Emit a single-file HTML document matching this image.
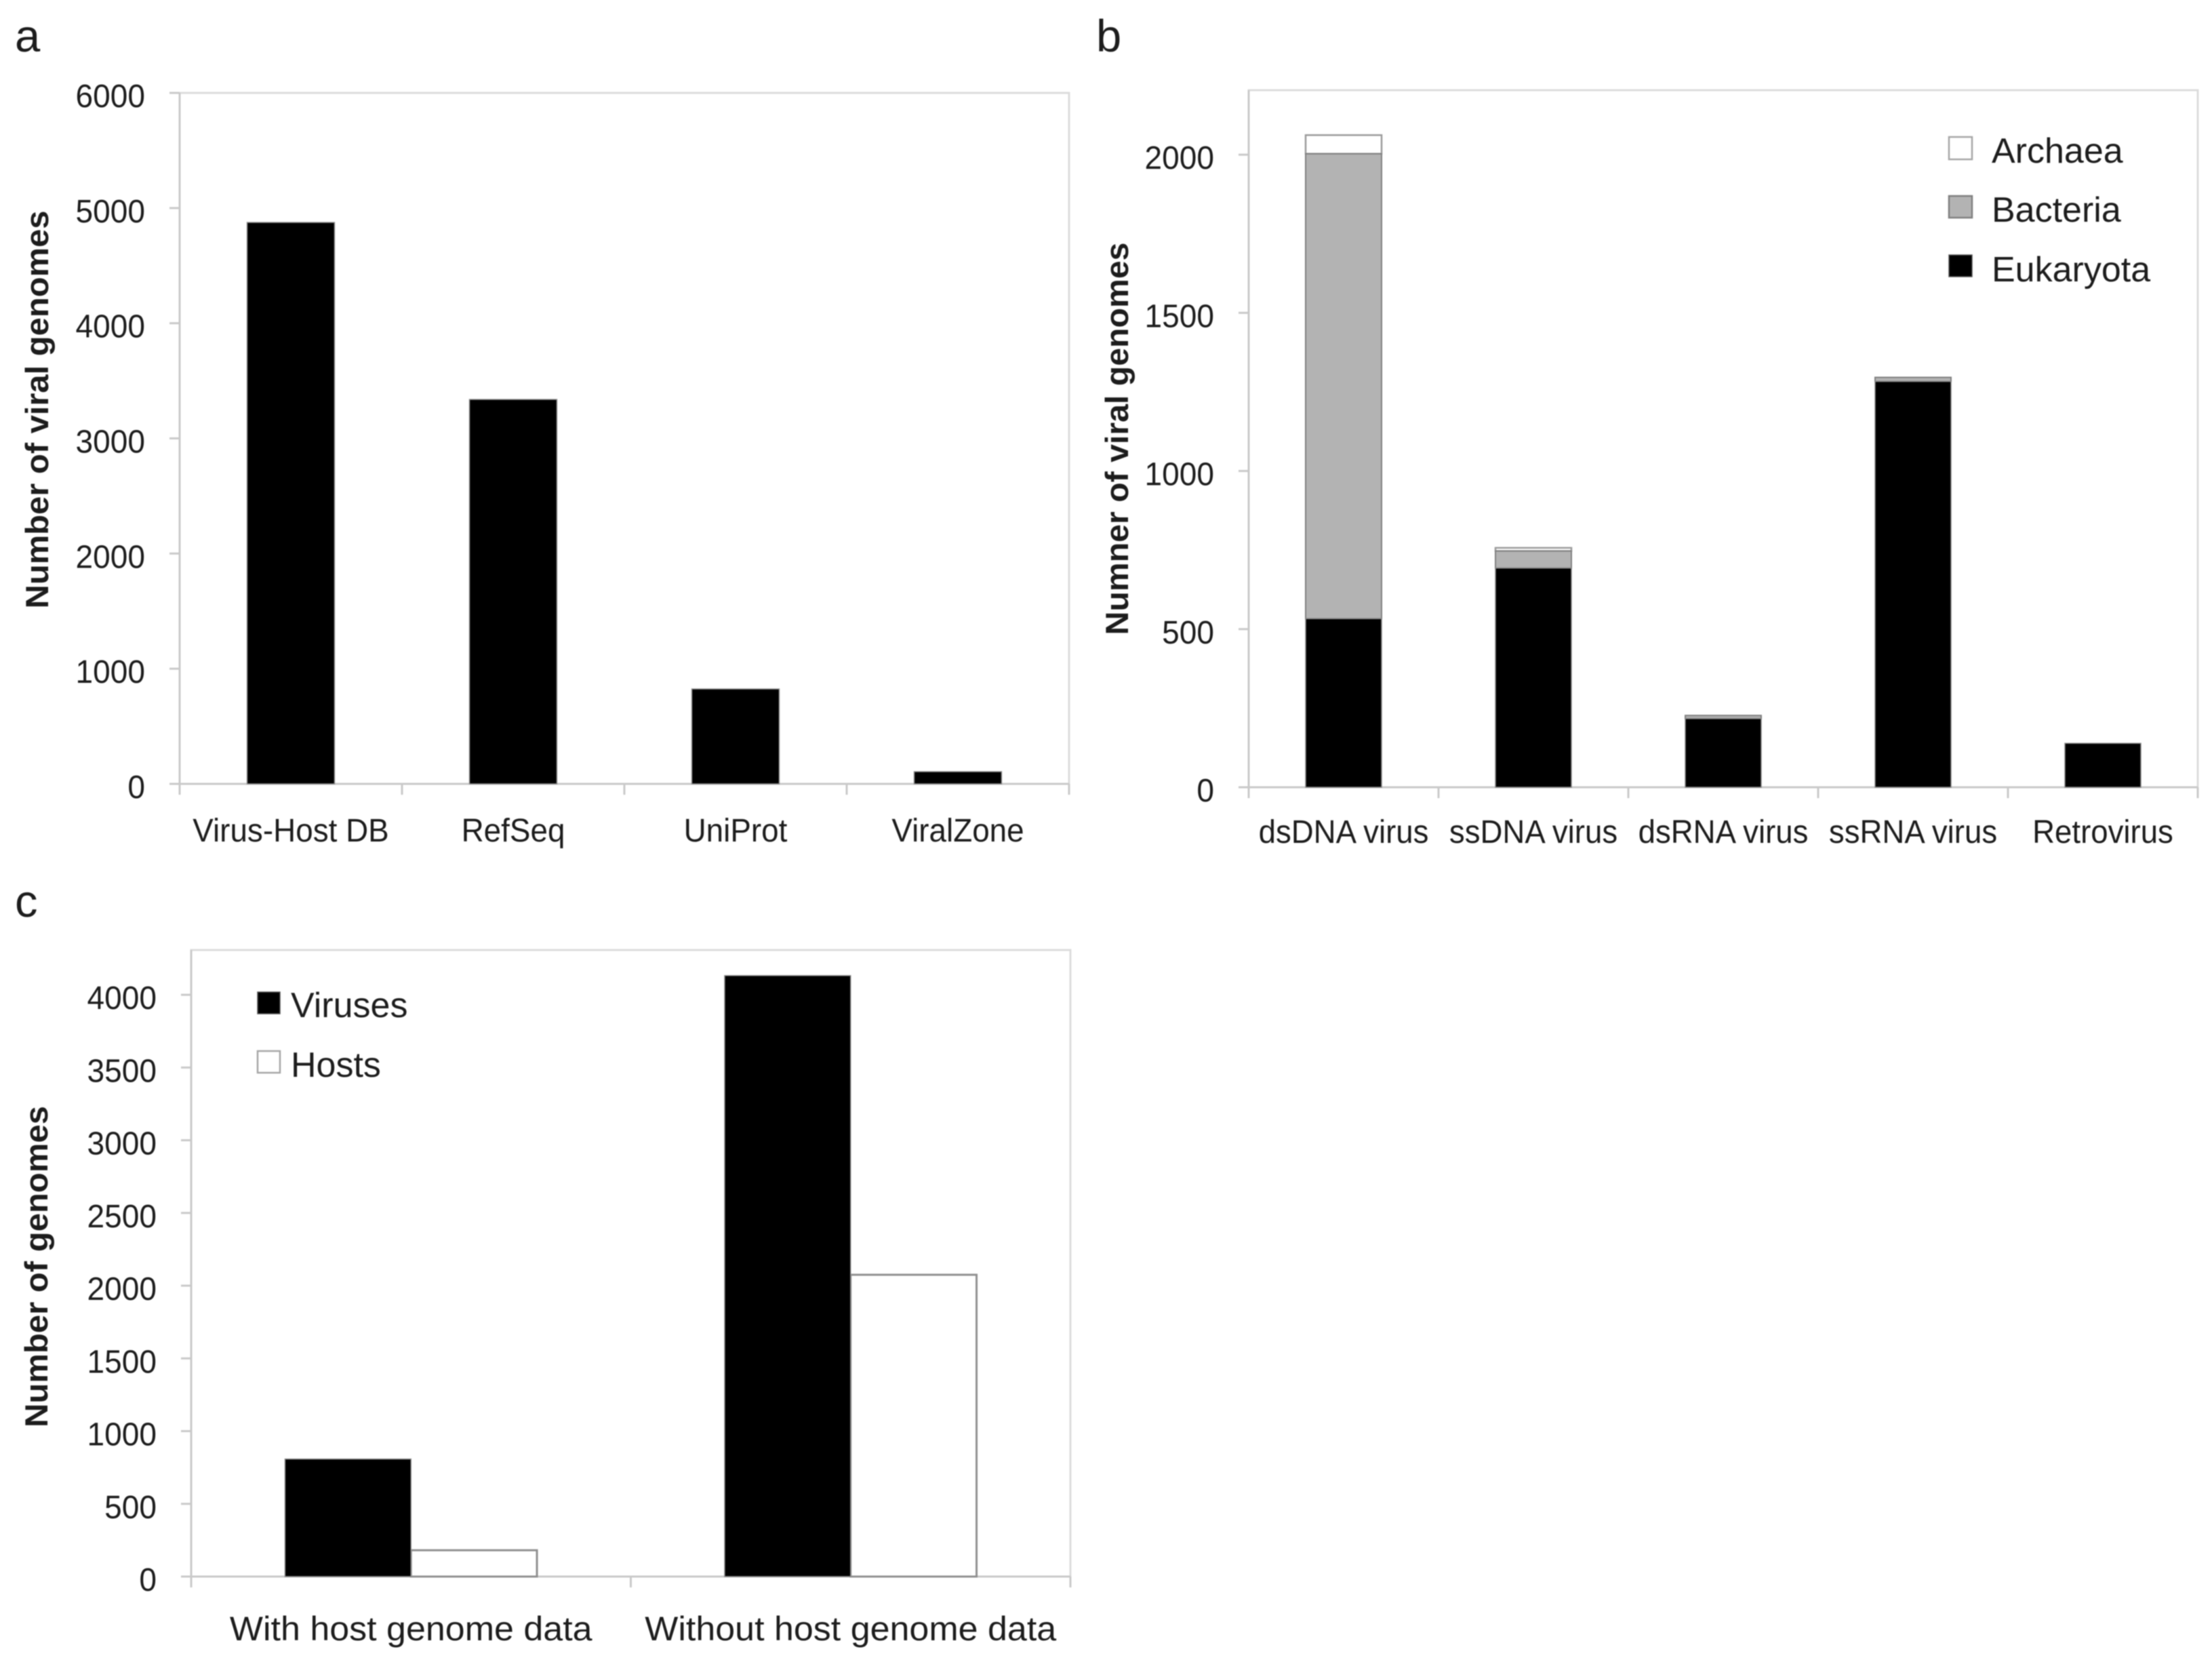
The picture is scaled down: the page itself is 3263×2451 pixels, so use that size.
<!DOCTYPE html>
<html lang="en">
<head>
<meta charset="utf-8">
<title>Viral genome counts</title>
<style>
  html, body { margin: 0; padding: 0; background: #fff; }
  #figure { display: block; width: 3263px; height: 2451px; filter: blur(0.9px); }
  text { font-family: "Liberation Sans", sans-serif; fill: #1c1c1c; }
</style>
</head>
<body>
<svg id="figure" xmlns="http://www.w3.org/2000/svg" width="3263" height="2451" viewBox="0 0 3263 2451"></svg>
<script>
// Panel a data
const categoriesA = ["Virus-Host DB", "RefSeq", "UniProt", "ViralZone"];
const valuesA = [4875, 3338, 824, 106];
const ticksA = [0, 1000, 2000, 3000, 4000, 5000, 6000];

// Panel b data
const categoriesB = ["dsDNA virus", "ssDNA virus", "dsRNA virus", "ssRNA virus", "Retrovirus"];
const eukaryotaB = [533, 693, 217, 1283, 139];
const bacteriaB = [1470, 54, 10, 13, 0];
const archaeaB = [59, 10, 0, 0, 0];
const ticksB = [0, 500, 1000, 1500, 2000];

// Panel c data
const categoriesC = ["With host genome data", "Without host genome data"];
const virusesC = [808, 4132];
const hostsC = [181, 2075];
const ticksC = [0, 500, 1000, 1500, 2000, 2500, 3000, 3500, 4000];

const svg = document.getElementById('figure');
const NS = 'http://www.w3.org/2000/svg';
const AXIS = '#c9c9c9';

function shape(tag, parent, props) {
  const el = document.createElementNS(NS, tag);
  for (const k in props) el.setAttribute(k, props[k]);
  parent.appendChild(el);
  return el;
}

function label(parent, str, x, y, size, anchor, squeeze, weight) {
  const el = shape('text', parent, {
    'text-anchor': anchor,
    'font-size': size,
    'font-weight': weight || 'normal',
    transform: 'translate(' + x + ' ' + y + ') scale(' + squeeze + ' 1)'
  });
  el.textContent = str;
  return el;
}

function drawFrame(g, box, yScale, ticks, categories, squeezeX, sizeX, baseX) {
  const border = shape('rect', g, { x: box.left, y: box.top, width: box.right - box.left, height: box.bottom - box.top, fill: 'none', stroke: '#dcdcdc', 'stroke-width': 3 });
  
  

  const yAxis = shape('line', g, { x1: box.left, x2: box.left, y1: box.top, y2: box.bottom + 16, stroke: AXIS, 'stroke-width': 3 });
  
  

  ticks.forEach(function (t) {
    const y = yScale(t);
    const mark = shape('line', g, { x1: box.left - 15, x2: box.left, y1: y, y2: y, stroke: AXIS, 'stroke-width': 3 });
    
    
    const txt = label(g, String(t), box.left - 51, y + 21, 48, 'end', 0.96);
    
    
  });

  const xAxis = shape('line', g, { x1: box.left - 15, x2: box.right, y1: box.bottom, y2: box.bottom, stroke: AXIS, 'stroke-width': 3 });
  
  

  const band = (box.right - box.left) / categories.length;
  for (let i = 0; i <= categories.length; i++) {
    const x = box.left + band * i;
    const mark = shape('line', g, { x1: x, x2: x, y1: box.bottom, y2: box.bottom + 16, stroke: AXIS, 'stroke-width': 3 });
    
    
  }
  categories.forEach(function (c, i) {
    const txt = label(g, c, box.left + band * (i + 0.5), baseX, sizeX, 'middle', squeezeX);
    
    
  });
}

function yTitle(g, str, x, yCenter, len) {
  const el = shape('text', g, {
    'text-anchor': 'middle', 'font-size': 47, 'font-weight': 'bold',
    textLength: len, lengthAdjust: 'spacingAndGlyphs',
    transform: 'translate(' + x + ' ' + yCenter + ') rotate(-90)'
  });
  el.textContent = str;
  return el;
}

function panelLetter(g, str, x, y) {
  const el = shape('text', g, { x: x, y: y, 'font-size': 67 });
  el.textContent = str;
  return el;
}

function makeGroup(name) {
  const g = shape('g', svg, {});
  
  
  return g;
}

/* ---------- Panel a ---------- */
(function () {
  const g = makeGroup('panel-a');
  const box = { left: 265, right: 1577, top: 137, bottom: 1156 };
  const yMax = 6000;
  const y = function (v) { return box.bottom - (v / yMax) * (box.bottom - box.top); };
  const band = (box.right - box.left) / categoriesA.length;
  const barW = band * 0.393;
  const letter = panelLetter(g, 'a', 22, 76);
  
  
  drawFrame(g, box, y, ticksA, categoriesA, 0.955, 48, 1241);
  valuesA.forEach(function (v, i) {
    const cx = box.left + band * (i + 0.5);
    const bar = shape('rect', g, { x: cx - barW / 2, y: y(v), width: barW, height: box.bottom - y(v), fill: '#000', stroke: '#8a8a8a', 'stroke-width': 1.5 });
    
    
  });
  const title = yTitle(g, 'Number of viral genomes', 71, 604, 587);
  
  
})();

/* ---------- Panel b ---------- */
(function () {
  const g = makeGroup('panel-b');
  const box = { left: 1842, right: 3242, top: 133, bottom: 1161 };
  const yMax = 2204;
  const y = function (v) { return box.bottom - (v / yMax) * (box.bottom - box.top); };
  const band = (box.right - box.left) / categoriesB.length;
  const barW = band * 0.4;
  const letter = panelLetter(g, 'b', 1617, 76);
  
  
  drawFrame(g, box, y, ticksB, categoriesB, 0.95, 48, 1243);

  categoriesB.forEach(function (c, i) {
    const cx = box.left + band * (i + 0.5);
    const slug = c.toLowerCase().replace(/[^a-z0-9]+/g, '-');
    const e = eukaryotaB[i], b = bacteriaB[i], a = archaeaB[i];
    if (a > 0) {
      const r = shape('rect', g, { x: cx - barW / 2, y: y(e + b + a), width: barW, height: y(e + b) - y(e + b + a), fill: '#fff', stroke: '#9a9a9a', 'stroke-width': 2.5 });
      
      
    }
    if (b > 0) {
      const r = shape('rect', g, { x: cx - barW / 2, y: y(e + b), width: barW, height: y(e) - y(e + b), fill: '#b3b3b3', stroke: '#7f7f7f', 'stroke-width': 2 });
      
      
    }
    const r = shape('rect', g, { x: cx - barW / 2, y: y(e), width: barW, height: box.bottom - y(e), fill: '#000', stroke: '#8a8a8a', 'stroke-width': 1.5 });
    
    
  });

  const title = yTitle(g, 'Numner of viral genomes', 1664, 647, 579);
  
  

  const sw1 = shape('rect', g, { x: 2875, y: 202, width: 34, height: 33, fill: '#fff', stroke: '#a6a6a6', 'stroke-width': 2.5 });
  
  
  const sw2 = shape('rect', g, { x: 2875, y: 289, width: 34, height: 32, fill: '#b3b3b3', stroke: '#7f7f7f', 'stroke-width': 2.5 });
  
  
  const sw3 = shape('rect', g, { x: 2875, y: 376, width: 34, height: 32, fill: '#000', stroke: '#555', 'stroke-width': 1.5 });
  
  
  const t1 = label(g, 'Archaea', 2938, 240, 52, 'start', 1);
  
  
  const t2 = label(g, 'Bacteria', 2938, 327, 52, 'start', 1);
  
  
  const t3 = label(g, 'Eukaryota', 2938, 415, 52, 'start', 1);
  
  
})();

/* ---------- Panel c ---------- */
(function () {
  const g = makeGroup('panel-c');
  const box = { left: 282, right: 1579, top: 1401, bottom: 2325 };
  const yMax = 4308;
  const y = function (v) { return box.bottom - (v / yMax) * (box.bottom - box.top); };
  const band = (box.right - box.left) / categoriesC.length;
  const barW = band * 0.2865;
  const letter = panelLetter(g, 'c', 22, 1352);
  
  
  drawFrame(g, box, y, ticksC, categoriesC, 1.04, 50, 2419);

  categoriesC.forEach(function (c, i) {
    const cx = box.left + band * (i + 0.5);
    const slug = c.toLowerCase().replace(/[^a-z0-9]+/g, '-');
    const hv = hostsC[i], vv = virusesC[i];
    const h = shape('rect', g, { x: cx, y: y(hv), width: barW, height: box.bottom - y(hv), fill: '#fff', stroke: '#8f8f8f', 'stroke-width': 3 });
    
    
    const v = shape('rect', g, { x: cx - barW, y: y(vv), width: barW, height: box.bottom - y(vv), fill: '#000', stroke: '#8a8a8a', 'stroke-width': 1.5 });
    
    
  });

  const title = yTitle(g, 'Number of genomes', 70, 1868, 474);
  
  

  const sw1 = shape('rect', g, { x: 380, y: 1463, width: 33, height: 32, fill: '#000', stroke: '#555', 'stroke-width': 1.5 });
  
  
  const sw2 = shape('rect', g, { x: 380, y: 1550, width: 33, height: 32, fill: '#fff', stroke: '#a6a6a6', 'stroke-width': 2.5 });
  
  
  const t1 = label(g, 'Viruses', 429, 1500, 52, 'start', 1);
  
  
  const t2 = label(g, 'Hosts', 429, 1588, 52, 'start', 1);
  
  
})();
</script>
</body>
</html>
